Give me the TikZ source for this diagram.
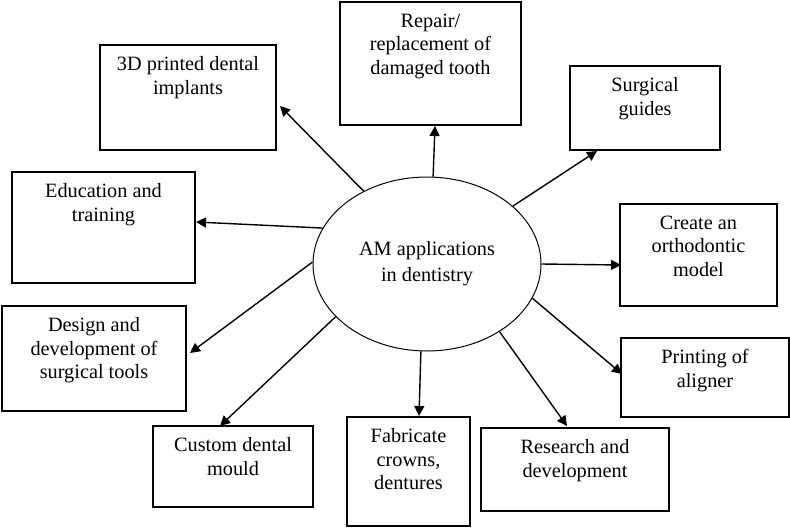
\documentclass[tikz,border=0pt]{standalone}
\usepackage{fontspec}
\setmainfont{Liberation Serif}
\usetikzlibrary{arrows.meta,shapes.geometric}
\begin{document}
\begin{tikzpicture}[x=1pt,y=-1pt,
  box/.style={draw,line width=1.2pt,inner sep=0pt,rectangle},
  lbl/.style={anchor=north,inner sep=0pt,align=center,font=\fontsize{20.3}{23.5}\selectfont},
  arr/.style={line width=1.4pt,-{Triangle[length=10pt,width=10pt]}},
  hub/.style={draw,ellipse,line width=1pt,inner sep=0pt,minimum width=228pt,minimum height=174pt,align=center,font=\fontsize{20.3}{26}\selectfont}]
\useasboundingbox (0,0) rectangle (790,528);
% hub
\node[hub] (c) at (427,264) {AM applications\\in dentistry};
% boxes
\node[box,minimum width=176pt,minimum height=105pt] (imp) at (188,97.5) {};
\node[box,minimum width=183pt,minimum height=111pt] (edu) at (103.5,227.5) {};
\node[box,minimum width=181pt,minimum height=123pt] (rep) at (430.5,63.5) {};
\node[box,minimum width=150pt,minimum height=84pt] (sg) at (645,108) {};
\node[box,minimum width=157pt,minimum height=102pt] (orth) at (698.5,255) {};
\node[box,minimum width=168pt,minimum height=79pt] (pal) at (705,377.5) {};
\node[box,minimum width=188pt,minimum height=83pt] (rnd) at (575,469.5) {};
\node[box,minimum width=123pt,minimum height=109pt] (fab) at (408.5,471.5) {};
\node[box,minimum width=160pt,minimum height=81pt] (cdm) at (233,466.5) {};
\node[box,minimum width=184pt,minimum height=105pt] (des) at (94,358.5) {};
% labels
\node[lbl] (imp-t) at ([yshift=-12pt]imp.north) {3D printed dental\\implants};
\node[lbl] (edu-t) at ([yshift=-12pt]edu.north) {Education and\\training};
\node[lbl] (rep-t) at ([yshift=-12pt]rep.north) {Repair/\\replacement of\\damaged tooth};
\node[lbl] (sg-t) at ([yshift=-12pt]sg.north) {Surgical\\guides};
\node[lbl] (orth-t) at ([yshift=-12pt]orth.north) {Create an\\orthodontic\\model};
\node[lbl] (pal-t) at ([yshift=-12pt]pal.north) {Printing of\\aligner};
\node[lbl] (rnd-t) at ([yshift=-12pt]rnd.north) {Research and\\development};
\node[lbl] (fab-t) at ([yshift=-12pt]fab.north) {Fabricate\\crowns,\\dentures};
\node[lbl] (cdm-t) at ([yshift=-12pt]cdm.north) {Custom dental\\mould};
\node[lbl] (des-t) at ([yshift=-12pt]des.north) {Design and\\development of\\surgical tools};
% arrow tips
\coordinate (t-imp) at (280,106);
\coordinate (t-edu) at (196,222);
\coordinate (t-rep) at (435,126);
\coordinate (t-sg) at (597,151);
\coordinate (t-orth) at (621,265);
\coordinate (t-pal) at (622,374);
\coordinate (t-rnd) at (567,426);
\coordinate (t-fab) at (419,416);
\coordinate (t-cdm) at (220,426);
\coordinate (t-des) at (190,353);
% arrows
\draw[arr] (c.131) -- (t-imp);
\draw[arr] (c.161) -- (t-edu);
\draw[arr] (c.86) -- (t-rep);
\draw[arr] (c.34.5) -- (t-sg);
\draw[arr] (c.0) -- (t-orth);
\draw[arr] (c.-18) -- (t-pal);
\draw[arr] (c.-43) -- (t-rnd);
\draw[arr] (c.-94) -- (t-fab);
\draw[arr] (c.-150) -- (t-cdm);
\draw[arr] (c.179) -- (t-des);
\end{tikzpicture}
\end{document}
